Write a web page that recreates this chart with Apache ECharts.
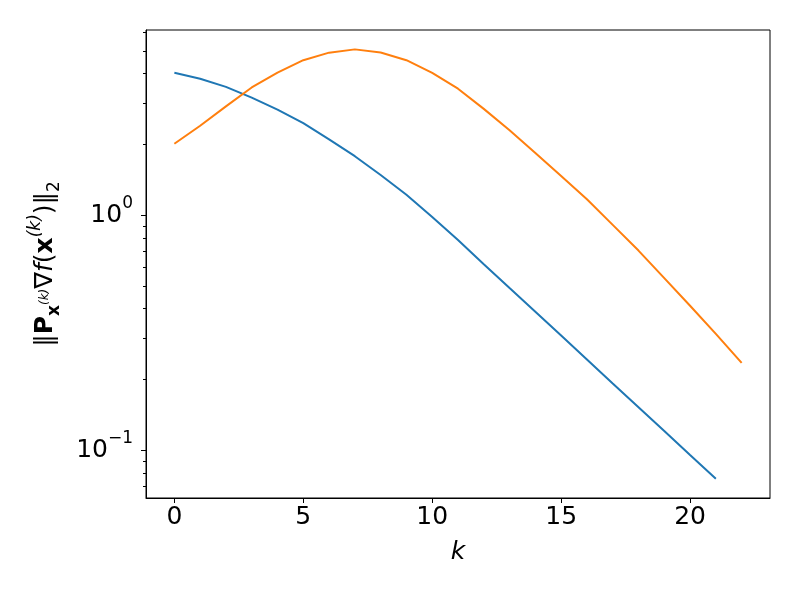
<!DOCTYPE html>
<html>
<head>
<meta charset="utf-8">
<script src="https://cdn.jsdelivr.net/npm/echarts@6/dist/echarts.min.js"></script>
<style>
  html, body { margin: 0; padding: 0; background: #fff; }
  #chart { width: 800px; height: 600px; }
</style>
</head>
<body>
<div id="chart"></div>
<script>
// iteration k -> norm of projected gradient (log scale)
var blueNorm = [4.03, 3.80, 3.51, 3.16, 2.81, 2.46, 2.10, 1.78, 1.48, 1.22, 0.982,
    0.783, 0.618, 0.489, 0.388, 0.307, 0.243, 0.192, 0.152, 0.1205, 0.0953, 0.0755];
var orangeNorm = [2.01, 2.40, 2.90, 3.49, 4.04, 4.56, 4.91, 5.07, 4.92, 4.56, 4.03,
    3.45, 2.83, 2.293, 1.837, 1.465, 1.167, 0.908, 0.706, 0.539, 0.411, 0.312, 0.235];

var xTicks = [0, 5, 10, 15, 20];
var yMajorTicks = [0.1, 1];
var yMinorTicks = [0.07, 0.08, 0.09, 0.2, 0.3, 0.4, 0.5, 0.6, 0.7, 0.8, 0.9, 2, 3, 4, 5, 6];
var yExponents = {'0.1': '−1', '1': '0'};

function toPairs(arr) {
    return arr.map(function (v, i) { return [i, v]; });
}

var font = 'DejaVu Sans';
var chart = echarts.init(document.getElementById('chart'), null, {renderer: 'canvas'});

option = {
    animation: false,
    grid: {
        left: 146, right: 30, top: 30, bottom: 102,
        show: true, borderColor: '#000', borderWidth: 1
    },
    xAxis: {
        type: 'value',
        min: -1.1,
        max: 23.1,
        splitLine: {show: false},
        axisLine: {onZero: false, lineStyle: {color: '#000', width: 1}},
        axisTick: {customValues: xTicks, length: 5, lineStyle: {color: '#000'}},
        axisLabel: {
            customValues: xTicks,
            margin: 7,
            fontSize: 25,
            fontFamily: font,
            color: '#000'
        },
        name: 'k',
        nameLocation: 'middle',
        nameGap: 42,
        nameTextStyle: {fontSize: 25, fontFamily: font, fontStyle: 'italic', color: '#000'}
    },
    yAxis: [{
        type: 'log',
        min: 0.0625,
        max: 6.13,
        splitLine: {show: false},
        axisLine: {show: true, onZero: false, lineStyle: {color: '#000', width: 1}},
        axisTick: {customValues: yMajorTicks, length: 5, lineStyle: {color: '#000'}},
        axisLabel: {
            customValues: yMajorTicks,
            margin: 13,
            color: '#000',
            padding: [0, 0, 7, 0],
            formatter: function (v) {
                var e = yExponents[String(+v.toPrecision(3))];
                return '{base|10}{sup|' + e + '}';
            },
            rich: {
                base: {fontSize: 25, fontFamily: font, color: '#000', lineHeight: 25, verticalAlign: 'bottom'},
                sup: {fontSize: 17, fontFamily: font, color: '#000', lineHeight: 32, verticalAlign: 'top'}
            }
        },
        name: '‖{b|P}{bsub|x}{ssup|(k)}∇{i|f}({b|x}{sup|(k)})‖{sub|2}',
        nameLocation: 'middle',
        nameRotate: 90,
        nameGap: 83,
        nameTextStyle: {
            fontSize: 25, fontFamily: font, color: '#000',
            rich: {
                b: {fontSize: 25, fontFamily: font, fontWeight: 'bold', color: '#000', lineHeight: 36},
                i: {fontSize: 25, fontFamily: font, fontStyle: 'italic', color: '#000', lineHeight: 36},
                bsub: {fontSize: 17, fontFamily: font, fontWeight: 'bold', color: '#000', verticalAlign: 'bottom', lineHeight: 17},
                ssup: {fontSize: 12, fontFamily: font, fontStyle: 'italic', color: '#000', verticalAlign: 'middle', lineHeight: 12},
                sup: {fontSize: 17, fontFamily: font, fontStyle: 'italic', color: '#000', verticalAlign: 'top', lineHeight: 17},
                sub: {fontSize: 17, fontFamily: font, color: '#000', verticalAlign: 'bottom', lineHeight: 17}
            }
        }
    }, {
        // minor ticks only
        type: 'log',
        min: 0.0625,
        max: 6.13,
        position: 'left',
        splitLine: {show: false},
        axisLine: {show: false, onZero: false},
        axisLabel: {show: false},
        axisTick: {customValues: yMinorTicks, length: 3, lineStyle: {color: '#000'}}
    }],
    series: [
        {
            type: 'line',
            data: toPairs(blueNorm),
            showSymbol: false,
            symbol: 'none',
            lineStyle: {color: '#1f77b4', width: 2},
            itemStyle: {color: '#1f77b4'}
        },
        {
            type: 'line',
            data: toPairs(orangeNorm),
            showSymbol: false,
            symbol: 'none',
            lineStyle: {color: '#ff7f0e', width: 2},
            itemStyle: {color: '#ff7f0e'}
        }
    ]
};
chart.setOption(option);
</script>
</body>
</html>
